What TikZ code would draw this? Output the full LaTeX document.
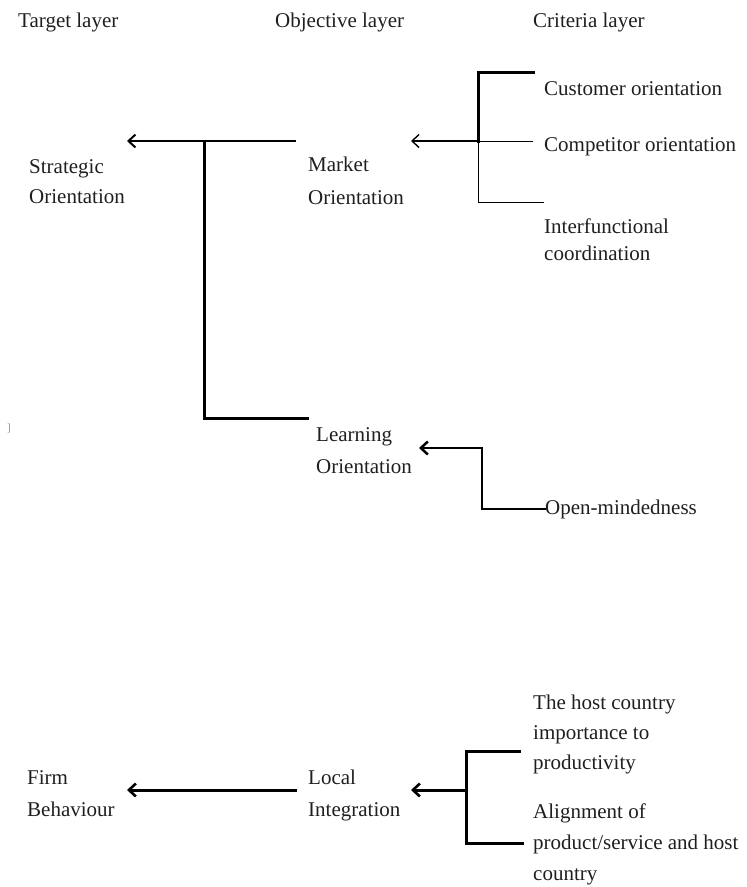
\documentclass[tikz,border=0pt]{standalone}
\usepackage{fontspec}
\setmainfont{Liberation Serif}
\usetikzlibrary{arrows.meta}
\begin{document}
\begin{tikzpicture}[x=1pt,y=-1pt,
  lbl/.style={anchor=base west, inner sep=0pt, align=left, text=black!88,
              font=\fontsize{21}{#1}\selectfont},
  lbl/.default=32,
  wire/.style={line width=#1, line cap=rect, line join=miter},
  wire/.default=3pt,
  chev/.style={-{Straight Barb[length=7pt,width=13pt,line width=#1]}},
  chev/.default=2pt]
\useasboundingbox (0,0) rectangle (747,887);

% layer headings
\node[lbl] (tl) at (18,27)  {Target layer};
\node[lbl] (ol) at (275,27) {Objective layer};
\node[lbl] (cl) at (533,27) {Criteria layer};

% upper hierarchy (multi-line nodes sit on the baseline of their last line)
\node[lbl=30] (so) at (29,203)  {Strategic\\Orientation};
\node[lbl=33] (mo) at (308,204) {Market\\Orientation};
\node[lbl=32] (lo) at (316,473) {Learning\\Orientation};
\node[lbl] (co) at (544,95)  {Customer orientation};
\node[lbl] (cp) at (544,151) {Competitor orientation};
\node[lbl=27] (ic) at (544,260) {Interfunctional\\coordination};
\node[lbl] (om) at (545,514) {Open-mindedness};

% lower hierarchy
\node[lbl=32] (fb) at (27,816)  {Firm\\Behaviour};
\node[lbl=32] (li) at (308,816) {Local\\Integration};
\node[lbl=30] (hc) at (533,769) {The host country\\importance to\\productivity};
\node[lbl=31] (al) at (533,880) {Alignment of\\product/service and host\\country};

% stray mark at the left margin
\node[anchor=base west, inner sep=0pt, text=black!45, font=\fontsize{11}{13}\selectfont] (mk) at (7,431) {]};

% connector ports
\coordinate (so-in)  at (127,141);
\coordinate (mo-out) at (295,141);
\coordinate (so-j)   at (204,141);
\coordinate (lo-out) at (307,418);
\coordinate (mo-in)  at (411,141);
\coordinate (cr-j)   at (478,141);
\coordinate (co-out) at (533,72);
\coordinate (cp-out) at (533,141);
\coordinate (ic-out) at (544,202);
\coordinate (lo-in)  at (419,448);
\coordinate (om-j)   at (482,448);
\coordinate (fb-in)  at (127,790);
\coordinate (li-out) at (295,790);
\coordinate (li-in)  at (411,790);
\coordinate (lc-j)   at (466,790);
\coordinate (hc-out) at (519,751);
\coordinate (al-out) at (522,843);

% Market -> Strategic, with Learning joining from below
\draw[wire=2pt, chev=2pt] (mo-out) -- (so-in);
\draw[wire=3pt] (so-j) |- (lo-out);

% criteria bracket into Market Orientation
\draw[wire=3pt] (co-out) -| (cr-j);
\draw[wire=0.9pt] (cr-j) |- (ic-out);
\draw[wire=0.9pt] (cp-out) -- (cr-j);
\draw[wire=1.4pt, chev=1.4pt] (cr-j) -- (mo-in);

% Open-mindedness into Learning Orientation
\draw[wire=2.5pt, chev=2.5pt] (om.west) -| (om-j) -- (lo-in);

% lower hierarchy connectors
\draw[wire=3pt, chev=2.6pt] (li-out) -- (fb-in);
\draw[wire=3pt] (hc-out) -- (hc-out -| lc-j) -- (al-out -| lc-j) -- (al-out);
\draw[wire=3pt, chev=2.6pt] (lc-j) -- (li-in);
\end{tikzpicture}
\end{document}
